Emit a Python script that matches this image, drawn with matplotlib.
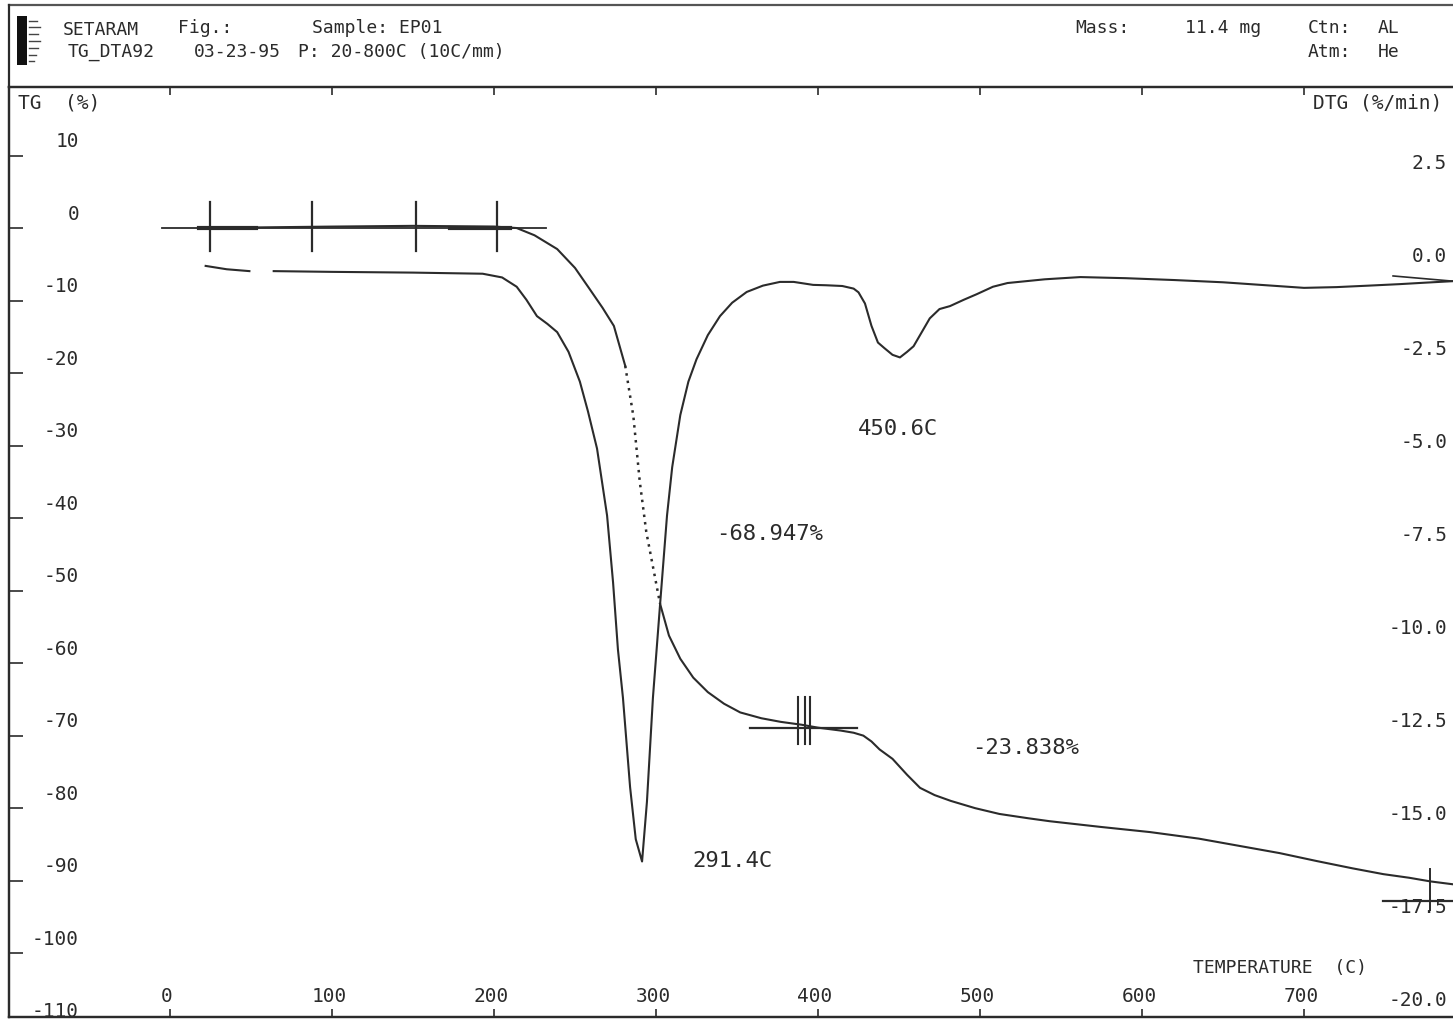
import numpy as np
import matplotlib.pyplot as plt
import matplotlib.transforms as mtransforms
from matplotlib.patches import Rectangle

# TG curve: temperature (C) vs mass change (%)
tg_temp = [22, 60, 100, 150, 200, 214, 225, 239, 250, 259, 267, 274, 281,
           286, 290, 294, 302.5,
           308, 315, 323, 332, 342, 352, 365, 377, 390, 400, 414, 422, 428,
           433, 438, 446, 455, 463, 472, 482, 497, 512, 530, 543, 575, 605,
           635, 660, 685, 708, 730, 749, 765, 778, 792]
tg_val = [0.0, 0.1, 0.2, 0.3, 0.2, 0.0, -1.0, -2.9, -5.5, -8.4, -11.0, -13.5, -19.0,
          -25.9, -35.0, -41.9, -51.8,
          -56.2, -59.4, -62.0, -64.0, -65.6, -66.8, -67.6, -68.1, -68.5, -68.9,
          -69.3, -69.6, -70.0, -70.8, -71.9, -73.2, -75.4, -77.2, -78.2, -79.0,
          -80.0, -80.8, -81.4, -81.8, -82.6, -83.3, -84.2, -85.2, -86.2, -87.3,
          -88.3, -89.1, -89.6, -90.1, -90.5]
# part of the TG trace the plotter drew dotted
tg_dotted = (281, 302.5)

# DTG curve: temperature (C) vs rate (%/min), nan = pen gap
dtg_temp = [22, 35, 49, np.nan, 64, 100, 150, 193, 205, 214, 220, 226.5, 233,
            239, 246, 253, 258, 263.6, 269.8, 273.5, 276.5, 279.6, 284, 287.5,
            291.4, 294.4, 298.1, 302.5, 306.8, 310, 315, 320, 325, 332, 339.5,
            347, 356, 366, 376.5, 385, 397, 405, 415, 422, 425, 429, 433, 437,
            441, 446, 450.6, 455, 459, 465, 469, 475, 481.5, 490, 498, 508,
            517, 540, 562, 590, 620, 650, 680, 700, 720, 740, 759, 775, 792]
dtg_val = [0.11, 0.02, -0.03, np.nan, -0.03, -0.05, -0.07, -0.1, -0.2, -0.45,
           -0.8, -1.24, -1.45, -1.67, -2.2, -3.0, -3.8, -4.8, -6.6, -8.4,
           -10.2, -11.5, -13.9, -15.3, -15.9, -14.3, -11.5, -9.0, -6.6, -5.3,
           -3.9, -3.0, -2.4, -1.75, -1.24, -0.88, -0.59, -0.42, -0.32, -0.32,
           -0.4, -0.41, -0.43, -0.5, -0.6, -0.9, -1.5, -1.95, -2.1, -2.28,
           -2.35, -2.2, -2.05, -1.6, -1.3, -1.05, -0.97, -0.8, -0.65, -0.45,
           -0.35, -0.25, -0.19, -0.22, -0.27, -0.33, -0.42, -0.48, -0.46,
           -0.42, -0.38, -0.34, -0.3]

peak_temps = [291.4, 450.6]
step_losses = [-68.947, -23.838]
step_ends = [0.0, 395.0, 777.8]

tg_ticks = [10, 0, -10, -20, -30, -40, -50, -60, -70, -80, -90, -100, -110]
dtg_ticks = [2.5, 0.0, -2.5, -5.0, -7.5, -10.0, -12.5, -15.0, -17.5, -20.0]
temp_ticks = [0, 100, 200, 300, 400, 500, 600, 700]

W, H = 1453, 1020
ink = '#2b2b2b'
mono = 'DejaVu Sans Mono'
plt.rcParams['font.family'] = mono

fig = plt.figure(figsize=(W / 100, H / 100), dpi=100)
fig.patch.set_facecolor('white')


def fx(px):
    return px / W


def fy(py):
    return 1 - py / H


top_px, bot_px, left_px = 88, 1018, 9
ax = fig.add_axes([fx(left_px), fy(bot_px), 1 - fx(left_px), (bot_px - top_px) / H])
ax.set_xlim(-99.4, 792)
ax.set_ylim(-108.8, (229 - top_px) / 7.25)
ax2 = ax.twinx()
ax2.set_ylim(-20.08, (271 - top_px) / 93.0 * 2.5)

for a in (ax, ax2):
    a.spines['right'].set_visible(False)
    for s in a.spines.values():
        s.set_color(ink)
        s.set_linewidth(1.6)
ax.set_yticks([t for t in tg_ticks if t > -108])
ax.set_xticks(temp_ticks)
ax.tick_params(axis='y', left=True, right=False, direction='in', length=10,
               width=1.2, color=ink, labelleft=False)
ax.tick_params(axis='x', bottom=True, top=True, direction='in', length=6,
               width=1.2, color=ink, labelbottom=False)
ax2.set_yticks([])

# tick labels sit inside the frame, a little above each tick
up = mtransforms.ScaledTranslation(0, 0.15, fig.dpi_scale_trans)
left_tf = mtransforms.blended_transform_factory(ax.transAxes, ax.transData) + up
for v in tg_ticks:
    ax.text(0.0485, v, f'{v}', transform=left_tf, ha='right', va='center',
            fontsize=14, color=ink)
right_tf = mtransforms.blended_transform_factory(ax2.transAxes, ax2.transData) + up
for v in dtg_ticks:
    ax2.text(0.996, v, f'{v:.1f}', transform=right_tf, ha='right', va='center',
             fontsize=14, color=ink)
bot_tf = mtransforms.blended_transform_factory(ax.transData, ax.transAxes) + \
    mtransforms.ScaledTranslation(-0.03, 0, fig.dpi_scale_trans)
for v in temp_ticks:
    ax.text(v, 0.0226, f'{v}', transform=bot_tf, ha='center', va='center',
            fontsize=14, color=ink)

# TG trace, dotted through the steepest part
t = np.array(tg_temp)
g = np.array(tg_val)
lo, hi = tg_dotted
a_ = t <= lo
b_ = (t >= lo) & (t <= hi)
c_ = t >= hi
ax.plot(t[a_], g[a_], color=ink, lw=1.5)
ax.plot(t[b_], g[b_], color=ink, lw=1.8, ls=(0, (1, 2)))
ax.plot(t[c_], g[c_], color=ink, lw=1.5)

# DTG trace
ax2.plot(dtg_temp, dtg_val, color=ink, lw=1.5)
ax2.plot([755, 792], [-0.16, -0.3], color=ink, lw=1.2)

# step markers on the TG trace
levels = np.cumsum([0.0] + step_losses)
ax.plot([-5, 232], [levels[0]] * 2, color=ink, lw=1.3)
ax.plot([18, 53], [levels[0]] * 2, color=ink, lw=3.0)
ax.plot([173, 210], [levels[0]] * 2, color=ink, lw=3.0)
for x in [24.7, 87.7, 151.9, 201.9]:
    ax.plot([x, x], [3.6, -3.2], color=ink, lw=1.6)
ax.plot([358, 424], [levels[1]] * 2, color=ink, lw=1.6)
for x in [387.6, 391.9, 395.0]:
    ax.plot([x, x], [-64.7, -71.2], color=ink, lw=1.5)
ax.plot([749, 792], [levels[2]] * 2, color=ink, lw=1.6)
ax.plot([step_ends[2]] * 2, [-88.4, -94.0], color=ink, lw=1.4)

# peak temperatures and mass losses
ax2.text(peak_temps[0] + 56, -15.85, f'{peak_temps[0]:.1f}C', ha='center',
         va='center', fontsize=16, color=ink)
ax2.text(peak_temps[1] - 1, -4.26, f'{peak_temps[1]:.1f}C', ha='center',
         va='center', fontsize=16, color=ink)
ax.text(370, -42.1, f'{step_losses[0]:.3f}%', ha='center', va='center',
        fontsize=16, color=ink)
ax.text(528, -71.6, f'{step_losses[1]:.3f}%', ha='center', va='center',
        fontsize=16, color=ink)

# axis names
fig.text(fx(18), fy(103), 'TG  (%)', ha='left', va='center', fontsize=14, color=ink)
fig.text(fx(1442), fy(103), 'DTG (%/min)', ha='right', va='center', fontsize=14, color=ink)
fig.text(fx(1367), fy(968), 'TEMPERATURE  (C)', ha='right', va='center',
         fontsize=13, color=ink)

# header box
fig.add_artist(plt.Line2D([fx(left_px), 1], [fy(6), fy(6)], color='#555555', lw=1.6))
fig.add_artist(plt.Line2D([fx(left_px), fx(left_px)], [fy(6), fy(top_px)],
                          color=ink, lw=1.6))
fig.add_artist(Rectangle((fx(17), fy(66)), fx(10), (66 - 17) / H,
                         facecolor='#111111', edgecolor='none'))
for py, x0, x1 in [(22, 29, 37), (28, 29, 40), (35, 29, 38), (42, 29, 40),
                   (49, 29, 38), (56, 29, 36), (62, 29, 34)]:
    fig.add_artist(plt.Line2D([fx(x0), fx(x1)], [fy(py), fy(py)], color='#444444', lw=1.0))
hdr = dict(ha='left', va='center', fontsize=13, color=ink)
fig.text(fx(63), fy(30), 'SETARAM', **hdr)
fig.text(fx(68), fy(52), 'TG_DTA92', **hdr)
fig.text(fx(178), fy(28), 'Fig.:', **hdr)
fig.text(fx(194), fy(52), '03-23-95', **hdr)
fig.text(fx(312), fy(28), 'Sample: EP01', **hdr)
fig.text(fx(298), fy(52), 'P: 20-800C (10C/mm)', **hdr)
fig.text(fx(1075), fy(28), 'Mass:', **hdr)
fig.text(fx(1185), fy(28), '11.4 mg', **hdr)
fig.text(fx(1308), fy(28), 'Ctn:', **hdr)
fig.text(fx(1378), fy(28), 'AL', **hdr)
fig.text(fx(1308), fy(52), 'Atm:', **hdr)
fig.text(fx(1378), fy(52), 'He', **hdr)

fig.savefig('out.png', dpi=100, facecolor='white')
plt.close(fig)
